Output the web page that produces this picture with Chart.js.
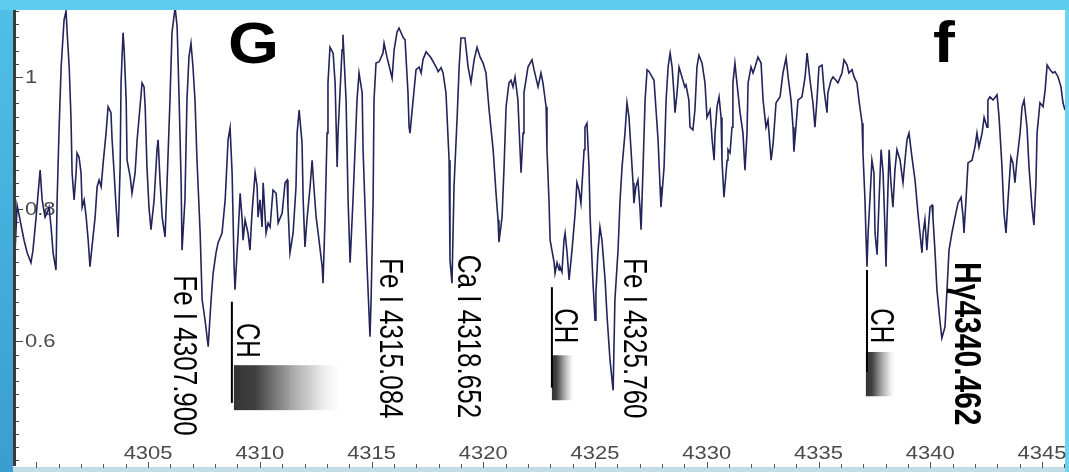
<!DOCTYPE html>
<html>
<head>
<meta charset="utf-8">
<script src="https://cdn.jsdelivr.net/npm/chart.js@4"></script>
<style>
  html, body { margin: 0; padding: 0; background: #5ccdec; }
  #wrap { width: 1069px; height: 472px; }
  canvas { display: block; }
</style>
</head>
<body>
<div id="wrap"><canvas id="spec" width="1069" height="472"></canvas></div>
<script>
// Normalised flux across the G band / H-gamma region (wavelength in Angstrom)
const wavelength = [
  4299.05,4299.14,4299.23,4299.45,4299.59,4299.76,4299.85,4299.99,4300.08,4300.17,
  4300.26,4300.39,4300.48,4300.57,4300.66,4300.75,4300.88,4300.93,4301.02,4301.11,
  4301.24,4301.33,4301.38,4301.47,4301.55,4301.60,4301.69,4301.78,4301.82,4301.91,
  4302.00,4302.05,4302.14,4302.23,4302.32,4302.40,4302.49,4302.63,4302.72,4302.81,
  4302.90,4302.99,4303.12,4303.21,4303.34,4303.39,4303.48,4303.57,4303.66,4303.75,
  4303.79,4303.88,4303.93,4304.02,4304.06,4304.20,4304.28,4304.42,4304.51,4304.64,
  4304.73,4304.82,4304.87,4304.95,4305.04,4305.13,4305.27,4305.40,4305.45,4305.54,
  4305.63,4305.76,4305.85,4305.98,4306.07,4306.21,4306.30,4306.39,4306.48,4306.52,
  4306.65,4306.74,4306.83,4306.92,4307.01,
  4307.10,4307.19,4307.33,4307.42,4307.55,4307.69,4307.82,4307.91,4308.04,4308.13,
  4308.31,4308.45,4308.58,4308.67,4308.76,4308.85,4308.89,4309.03,4309.12,4309.21,
  4309.25,4309.34,4309.47,4309.56,4309.65,4309.79,4309.88,4309.92,4310.01,4310.10,
  4310.15,4310.28,4310.37,4310.46,4310.59,4310.73,4310.82,4311.00,4311.13,4311.22,
  4311.26,4311.35,4311.49,4311.62,4311.67,4311.76,4311.89,4311.94,4312.02,4312.11,
  4312.25,4312.34,4312.43,4312.52,4312.61,4312.79,4312.83,4312.92,4313.01,4313.05,
  4313.14,4313.28,4313.37,4313.46,4313.50,4313.68,4313.72,4313.86,4313.95,4314.04,
  4314.17,4314.35,4314.44,4314.58,4314.62,4314.80,4314.93,
  4314.98,4315.07,4315.11,4315.20,4315.34,4315.51,4315.56,4315.69,4315.83,4315.92,
  4316.01,4316.14,4316.23,4316.41,4316.50,4316.63,4316.68,4316.72,4316.86,4316.99,
  4317.13,4317.22,4317.30,4317.44,4317.66,4317.89,4317.98,4318.11,4318.20,4318.33,
  4318.47,4318.51,4318.60,4318.69,4318.83,4318.92,4319.00,4319.18,4319.32,4319.45,
  4319.59,4319.72,4319.86,4319.99,4320.12,4320.26,4320.44,4320.57,4320.66,4320.70,
  4320.84,4320.93,4321.02,4321.15,4321.24,4321.33,4321.42,4321.55,4321.60,4321.69,
  4321.78,4321.82,4322.00,4322.18,4322.27,4322.45,4322.58,4322.67,4322.81,
  4322.85,4322.94,4322.99,4323.17,4323.21,4323.30,4323.39,4323.43,4323.52,4323.61,
  4323.66,4323.75,4323.84,4323.97,4324.11,4324.19,4324.28,4324.37,4324.51,4324.55,
  4324.64,4324.73,4324.78,4324.91,4325.00,4325.04,4325.13,4325.22,4325.31,4325.45,
  4325.54,4325.67,4325.81,4325.89,4326.03,4326.12,4326.21,4326.34,4326.43,4326.52,
  4326.61,4326.70,4326.74,4326.83,4326.92,4327.01,4327.06,4327.15,4327.24,4327.33,
  4327.42,4327.64,4327.73,4327.82,4327.91,4327.95,4328.09,4328.18,4328.27,4328.36,
  4328.45,4328.53,4328.58,4328.67,4328.76,4328.89,4329.02,4329.07,4329.20,4329.25,
  4329.38,4329.47,4329.56,4329.65,4329.79,4329.92,4330.01,4330.10,4330.15,4330.24,
  4330.33,4330.37,4330.46,4330.55,
  4330.64,4330.68,4330.77,4330.91,4330.95,4331.04,4331.13,4331.17,4331.26,4331.35,
  4331.49,4331.62,4331.71,4331.80,4331.85,4331.98,4332.07,4332.16,4332.29,4332.43,
  4332.52,4332.65,4332.74,4332.88,4332.97,4333.10,4333.28,4333.41,4333.55,4333.64,
  4333.77,4333.86,4333.90,4333.99,4334.08,4334.26,4334.40,4334.49,4334.62,4334.75,
  4334.84,4334.93,4335.02,4335.16,4335.25,4335.38,4335.42,4335.56,4335.65,4335.78,
  4335.87,4336.05,4336.14,4336.28,4336.36,4336.50,4336.59,4336.72,4336.81,4336.95,
  4336.99,4337.08,4337.13,4337.17,4337.22,4337.30,4337.39,4337.48,4337.53,4337.62,
  4337.71,4337.80,4337.89,4337.98,4338.02,4338.07,4338.16,4338.24,
  4338.33,4338.42,4338.51,4338.65,4338.78,4338.87,4338.96,4339.05,4339.18,4339.32,
  4339.45,4339.54,4339.63,4339.68,4339.76,4339.85,4339.90,4339.99,4340.08,4340.12,
  4340.21,4340.30,4340.43,4340.52,4340.66,4340.75,4340.84,4340.97,4341.11,4341.24,
  4341.38,4341.47,4341.51,4341.60,4341.69,4341.87,4342.00,4342.09,4342.18,4342.32,
  4342.41,4342.54,4342.58,4342.67,4342.81,4342.99,4343.08,4343.21,4343.30,4343.39,
  4343.48,4343.61,4343.70,4343.79,4343.88,4344.02,4344.11,4344.20,4344.33,4344.42,
  4344.55,4344.64,4344.73,4344.78,4344.91,4345.05,4345.14,4345.23,4345.36,4345.49,
  4345.58,4345.72,4345.85,4345.94,4346.03
];
const flux = [
  0.738,0.806,0.791,0.753,0.734,0.719,0.738,0.788,0.824,0.859,
  0.814,0.788,0.794,0.803,0.773,0.734,0.708,0.814,0.924,1.015,
  1.086,1.100,1.067,1.015,0.939,0.855,0.814,0.855,0.885,0.879,
  0.855,0.803,0.814,0.788,0.753,0.713,0.743,0.788,0.834,0.844,
  0.834,0.870,0.915,0.955,0.946,0.905,0.855,0.803,0.758,0.864,
  0.991,1.067,1.041,0.965,0.874,0.849,0.824,0.855,0.905,0.955,
  0.991,0.985,0.955,0.864,0.803,0.769,0.814,0.890,0.905,0.840,
  0.788,0.758,0.840,0.965,1.067,1.105,1.076,0.965,0.840,0.738,
  0.814,0.965,1.030,1.051,1.015,
  0.965,0.874,0.764,0.663,0.632,0.592,0.663,0.703,0.734,0.749,
  0.764,0.814,0.905,0.923,0.855,0.713,0.678,0.764,0.824,0.784,
  0.753,0.784,0.764,0.738,0.794,0.855,0.834,0.788,0.814,0.773,
  0.840,0.764,0.779,0.773,0.829,0.824,0.779,0.794,0.840,0.844,
  0.803,0.734,0.764,0.834,0.915,0.950,0.900,0.814,0.743,0.784,
  0.834,0.874,0.829,0.788,0.764,0.713,0.688,0.788,0.915,0.991,
  1.045,1.036,0.991,0.864,0.915,1.041,1.064,0.965,0.814,0.719,
  0.814,0.965,1.006,0.976,0.890,0.713,0.607,
  0.663,0.814,0.965,1.021,1.023,1.036,1.051,1.030,1.011,0.998,
  1.041,1.068,1.074,1.060,1.056,0.976,0.924,0.915,0.965,1.011,
  1.015,1.006,1.026,1.038,1.029,1.015,1.008,1.014,1.006,0.976,
  0.874,0.723,0.688,0.834,0.939,1.015,1.059,1.059,1.015,0.992,
  1.026,1.045,1.030,1.021,1.006,0.950,0.890,0.824,0.784,0.750,
  0.788,0.864,0.955,0.991,0.995,0.985,1.000,0.965,0.924,0.855,
  0.915,0.976,1.015,1.026,1.011,0.985,1.006,0.991,0.955,
  0.890,0.814,0.753,0.719,0.703,0.719,0.708,0.713,0.705,0.753,
  0.764,0.734,0.693,0.738,0.794,0.840,0.829,0.809,0.890,0.924,
  0.930,0.864,0.788,0.688,0.632,0.673,0.734,0.773,0.753,0.693,
  0.637,0.572,0.526,0.663,0.738,0.814,0.864,0.915,0.961,0.939,
  0.890,0.840,0.809,0.834,0.844,0.803,0.769,0.864,0.965,1.011,
  1.008,0.995,0.950,0.905,0.834,0.803,0.864,0.965,1.015,1.036,
  1.015,0.976,0.946,0.976,1.015,1.000,0.985,0.988,0.965,0.924,
  0.920,0.950,1.015,1.033,1.021,0.991,0.939,0.946,0.950,0.905,
  0.874,0.915,0.955,0.970,
  0.939,0.874,0.818,0.874,0.890,0.885,0.924,0.991,1.021,0.991,
  0.946,0.915,0.859,0.915,0.991,1.015,1.006,1.015,1.030,1.021,
  0.965,0.924,0.935,0.874,0.900,0.961,0.970,1.006,1.029,1.000,
  0.965,0.924,0.887,0.924,0.965,0.970,1.000,1.036,0.995,0.961,
  0.924,0.965,1.015,1.018,0.980,0.946,0.976,0.995,1.000,0.995,
  0.991,1.006,1.026,1.018,1.006,1.011,1.000,0.991,0.965,0.930,
  0.885,0.814,0.753,0.713,0.764,0.814,0.874,0.855,0.764,0.731,
  0.814,0.890,0.855,0.764,0.713,0.788,0.890,0.840,
  0.803,0.859,0.890,0.874,0.840,0.874,0.905,0.915,0.879,0.844,
  0.794,0.764,0.734,0.764,0.784,0.738,0.764,0.803,0.806,0.788,
  0.738,0.678,0.632,0.605,0.622,0.678,0.738,0.764,0.788,0.809,
  0.818,0.788,0.764,0.814,0.870,0.874,0.894,0.915,0.894,0.915,
  0.939,0.924,0.965,0.970,0.965,0.973,0.939,0.864,0.794,0.764,
  0.814,0.879,0.870,0.840,0.874,0.915,0.955,0.965,0.924,0.864,
  0.803,0.776,0.840,0.915,0.961,0.955,0.980,1.018,1.011,1.006,
  1.008,1.000,0.985,0.961,0.950
];

// Axis ranges and tick labels
const xRange = [4299.09, 4346.03];
const yRange = [0.4115, 1.1013];
const xTickValues = [4305, 4310, 4315, 4320, 4325, 4330, 4335, 4340, 4345];
const xTickLabels = ['4305', '4310', '4315', '4320', '4325', '4330', '4335', '4340', '4345'];
const yTickValues = [0.6, 0.8, 1];
const yTickLabels = ['0.6', '0.8', '1'];

// Identified absorption features: label text and anchor (wavelength, flux)
const lineLabels = ['Fe I 4307.900', 'Fe I 4315.084', 'Ca I 4318.652', 'Fe I 4325.760'];
const lineLabelAnchors = [[4306.16, 0.700], [4315.38, 0.726], [4318.87, 0.731], [4326.29, 0.726]];
const hGammaLabel = 'H\u03b34340.462';
const hGammaAnchor = [4341.10, 0.720];

// CH band heads: marker line, label anchor and shaded band extent
const chMarkers = [4308.75, 4323.07, 4337.17];
const chMarkerSpans = [[0.660, 0.507], [0.682, 0.530], [0.708, 0.554]];
const chLabelAnchors = [[4308.98, 0.628], [4323.21, 0.650], [4337.35, 0.650]];
const chBands = [[4308.84, 4313.59, 0.564, 0.496], [4323.07, 4324.06, 0.579, 0.511], [4337.12, 4338.42, 0.584, 0.517]];

// Fraunhofer band letters
const bandLetters = ['G', 'f'];
const bandLetterAnchors = [[4308.58, 1.021], [4340.12, 1.023]];

const points = wavelength.map((w, i) => ({ x: w, y: flux[i] }));

function vText(ctx, text, px, py, font, sx) {
  ctx.save();
  ctx.translate(px, py);
  ctx.scale(sx, 1);
  ctx.rotate(Math.PI / 2);
  ctx.font = font;
  ctx.textAlign = 'left';
  ctx.textBaseline = 'alphabetic';
  ctx.fillText(text, 0, 0);
  ctx.restore();
}

const frame = {
  id: 'frame',
  beforeDraw(chart) {
    const { ctx, width, height, chartArea: a } = chart;
    ctx.save();
    ctx.fillStyle = '#5ccdec';
    ctx.fillRect(0, 0, width, height);
    const lg = ctx.createLinearGradient(0, 0, 0, height);
    lg.addColorStop(0, '#4fc0e8');
    lg.addColorStop(1, '#3a9dcf');
    ctx.fillStyle = lg;
    ctx.fillRect(0, a.top, a.left - 3, height - a.top);
    ctx.fillStyle = '#ffffff';
    ctx.fillRect(a.left - 3, a.top, a.right - a.left + 3, a.bottom - a.top + 1);
    ctx.fillStyle = '#6fd2ef';
    ctx.fillRect(a.right, a.top, width - a.right, height - a.top);
    ctx.fillStyle = '#c3dbe8';
    ctx.fillRect(a.left - 3, a.bottom + 1, a.right - a.left + 3, height - a.bottom);
    ctx.restore();
  },
  beforeDatasetsDraw(chart) {
    const { ctx, chartArea: a, scales: { x, y } } = chart;
    ctx.save();
    // vertical axis line with 0.02 minor ticks
    ctx.fillStyle = '#3a3a3a';
    ctx.fillRect(a.left - 3, a.top, 3, a.bottom - a.top);
    ctx.strokeStyle = '#444';
    ctx.lineWidth = 1;
    for (let k = 21; k <= 55; k++) {
      const v = k * 0.02;
      const py = Math.round(y.getPixelForValue(v)) + 0.5;
      const major = k % 10 === 0;
      ctx.beginPath();
      ctx.moveTo(a.left, py);
      ctx.lineTo(a.left + (major ? 7 : 3), py);
      ctx.stroke();
    }
    // bottom ticks every Angstrom
    ctx.strokeStyle = '#555';
    for (let w = 4300; w <= 4346; w++) {
      const px = Math.round(x.getPixelForValue(w)) + 0.5;
      ctx.beginPath();
      ctx.moveTo(px, a.bottom + 2);
      ctx.lineTo(px, a.bottom - (w % 5 === 0 ? 4 : 2));
      ctx.stroke();
    }
    // tick labels, drawn inside the plot
    ctx.fillStyle = '#4a4a4a';
    ctx.font = '18px "Liberation Sans", Arial, sans-serif';
    ctx.textBaseline = 'middle';
    yTickValues.forEach((v, i) => {
      const py = y.getPixelForValue(v);
      ctx.save();
      ctx.translate(a.left + 9, py + 1);
      ctx.scale(1.22, 1);
      ctx.textAlign = 'left';
      ctx.fillText(yTickLabels[i], 0, 0);
      ctx.restore();
    });
    xTickValues.forEach((v, i) => {
      const px = x.getPixelForValue(v);
      ctx.save();
      ctx.translate(px, a.bottom - 12);
      ctx.scale(1.22, 1);
      ctx.textAlign = 'center';
      ctx.fillText(xTickLabels[i], 0, 0);
      ctx.restore();
    });
    ctx.restore();
  },
  afterDatasetsDraw(chart) {
    const { ctx, scales: { x, y } } = chart;
    ctx.save();
    ctx.fillStyle = '#000';
    lineLabels.forEach((t, i) => {
      const [w, f] = lineLabelAnchors[i];
      vText(ctx, t, x.getPixelForValue(w), y.getPixelForValue(f), '26px "Liberation Sans", Arial, sans-serif', 1.3);
    });
    vText(ctx, hGammaLabel, x.getPixelForValue(hGammaAnchor[0]), y.getPixelForValue(hGammaAnchor[1]),
      'bold 30px "Liberation Sans", Arial, sans-serif', 1.25);

    chBands.forEach(([w0, w1, f0, f1]) => {
      const x0 = x.getPixelForValue(w0), x1 = x.getPixelForValue(w1);
      const y0 = y.getPixelForValue(f0), y1 = y.getPixelForValue(f1);
      const g = ctx.createLinearGradient(x0, 0, x1, 0);
      g.addColorStop(0, '#333333');
      g.addColorStop(0.2, '#404040');
      g.addColorStop(0.55, '#a8a8a8');
      g.addColorStop(0.85, '#eeeeee');
      g.addColorStop(1, '#ffffff');
      ctx.fillStyle = g;
      ctx.fillRect(x0, y0, x1 - x0, y1 - y0);
    });
    ctx.fillStyle = '#000';
    chMarkers.forEach((w, i) => {
      const px = x.getPixelForValue(w);
      const [f0, f1] = chMarkerSpans[i];
      const y0 = y.getPixelForValue(f0), y1 = y.getPixelForValue(f1);
      ctx.fillRect(px - 1, y0, 2, y1 - y0);
      const [lw, lf] = chLabelAnchors[i];
      vText(ctx, 'CH', x.getPixelForValue(lw), y.getPixelForValue(lf), '24px "Liberation Sans", Arial, sans-serif', 1.4);
    });

    bandLetters.forEach((t, i) => {
      const [w, f] = bandLetterAnchors[i];
      ctx.save();
      ctx.translate(x.getPixelForValue(w), y.getPixelForValue(f));
      ctx.scale(1.15, 1);
      ctx.font = 'bold 57px "Liberation Sans", Arial, sans-serif';
      ctx.textAlign = 'left';
      ctx.textBaseline = 'alphabetic';
      ctx.fillText(t, 0, 0);
      ctx.restore();
    });
    ctx.restore();
  }
};

new Chart(document.getElementById('spec'), {
  type: 'line',
  data: {
    datasets: [{
      data: points,
      borderColor: '#22245a',
      borderWidth: 1.6,
      pointRadius: 0,
      tension: 0,
      fill: false
    }]
  },
  options: {
    responsive: false,
    animation: false,
    devicePixelRatio: 1,
    layout: { padding: { left: 16, top: 10, right: 4, bottom: 6 } },
    plugins: { legend: { display: false }, tooltip: { enabled: false } },
    scales: {
      x: { type: 'linear', min: xRange[0], max: xRange[1], display: false },
      y: { type: 'linear', min: yRange[0], max: yRange[1], display: false }
    }
  },
  plugins: [frame]
});
</script>
</body>
</html>
